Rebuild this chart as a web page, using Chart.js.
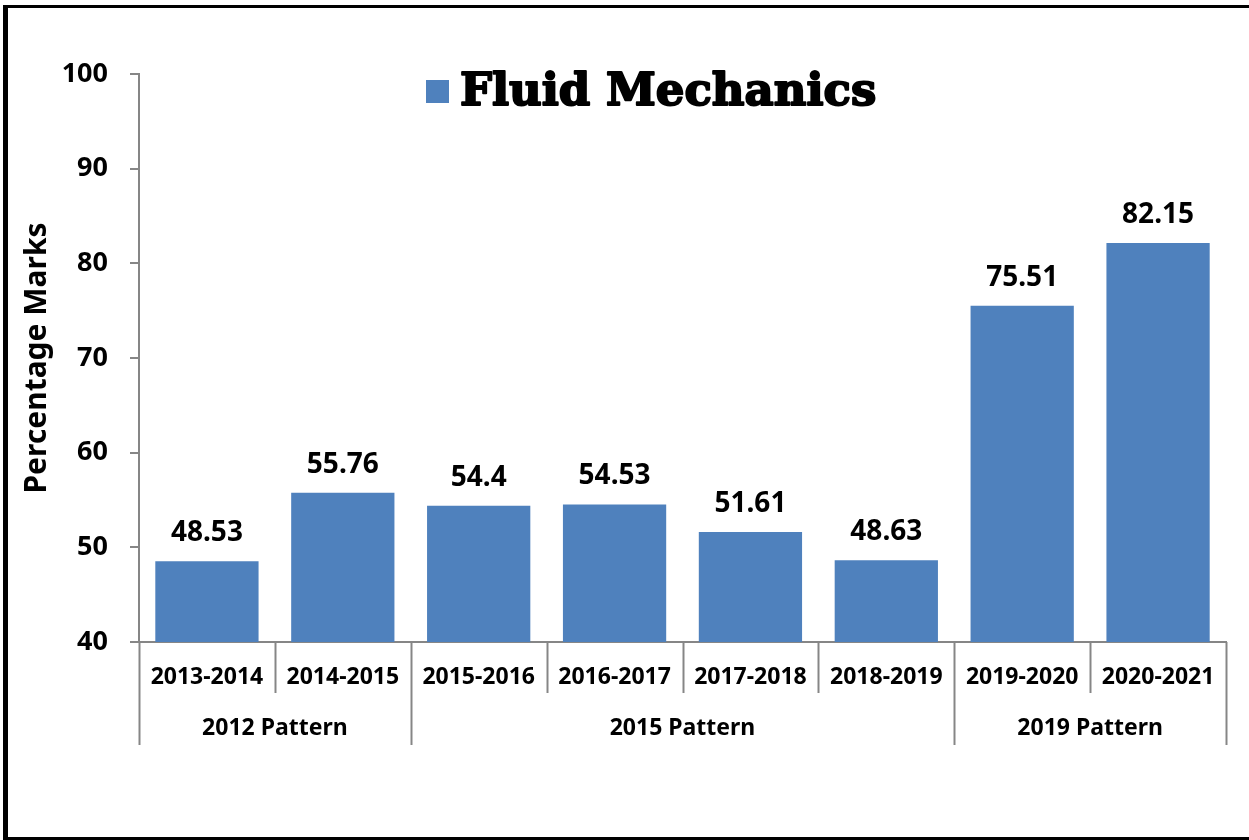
<!DOCTYPE html>
<html>
<head>
<meta charset="utf-8">
<script src="https://cdn.jsdelivr.net/npm/chart.js@4"></script>
<style>
  body { margin: 0; background: #fff; }
  #wrap { width: 1249px; height: 840px; }
</style>
</head>
<body>
<div id="wrap"><canvas id="marksChart" width="1249" height="840"></canvas></div>
<script>
// valores
const years = ['2013-2014', '2014-2015', '2015-2016', '2016-2017', '2017-2018', '2018-2019', '2019-2020', '2020-2021'];
const marks = [48.53, 55.76, 54.4, 54.53, 51.61, 48.63, 75.51, 82.15];
const markLabels = ['48.53', '55.76', '54.4', '54.53', '51.61', '48.63', '75.51', '82.15'];
const patterns = ['2012 Pattern', '2015 Pattern', '2019 Pattern'];
const patternSizes = [2, 4, 2];
const yTicks = [40, 50, 60, 70, 80, 90, 100];

const labelFont = '"Noto Sans", "Open Sans", sans-serif';
const axisGray = '#868686';

// moldura preta (esquerda, topo e base)
const frame = {
  id: 'frame',
  beforeDraw(chart) {
    const c = chart.ctx;
    c.save();
    c.fillStyle = '#fff';
    c.fillRect(0, 0, chart.width, chart.height);
    c.fillStyle = '#000';
    c.fillRect(3, 5, 5, 835);
    c.fillRect(3, 5, 1246, 3);
    c.fillRect(3, 837, 1246, 3);
    c.restore();
  }
};

// legenda desenhada à mão (quadrado + nome da série)
const seriesKey = {
  id: 'seriesKey',
  afterDraw(chart) {
    const c = chart.ctx;
    const ds = chart.data.datasets[0];
    c.save();
    c.fillStyle = ds.backgroundColor;
    c.fillRect(426, 80, 23, 23);
    c.fillStyle = '#000';
    c.strokeStyle = '#000';
    c.lineWidth = 2;
    c.lineJoin = 'round';
    c.font = 'bold 45px "DejaVu Serif", serif';
    c.textAlign = 'left';
    c.textBaseline = 'middle';
    c.fillText(ds.label, 460, 93);
    c.strokeText(ds.label, 460, 93); // deixa o texto mais pesado
    c.restore();
  }
};

// valores em cima das barras
const barValues = {
  id: 'barValues',
  afterDatasetsDraw(chart) {
    const c = chart.ctx;
    const meta = chart.getDatasetMeta(0);
    c.save();
    c.font = 'bold 28px ' + labelFont;
    c.fillStyle = '#000';
    c.textAlign = 'center';
    c.textBaseline = 'bottom';
    meta.data.forEach((bar, i) => {
      c.fillText(markLabels[i], bar.x, bar.y - 14);
    });
    c.restore();
  }
};

// eixo x em dois níveis: separadores e nomes dos padrões
const groupAxis = {
  id: 'groupAxis',
  afterDraw(chart) {
    const c = chart.ctx;
    const x = chart.scales.x;
    const bottom = chart.chartArea.bottom;
    const half = (x.getPixelForValue(1) - x.getPixelForValue(0)) / 2;
    const edge = i => x.getPixelForValue(i) - half;
    const groupEdges = [0];
    patternSizes.forEach(n => groupEdges.push(groupEdges[groupEdges.length - 1] + n));

    c.save();
    c.strokeStyle = axisGray;
    c.lineWidth = 2;
    for (let i = 0; i <= years.length; i++) {
      const px = Math.round(edge(i)) + 0.5;
      const len = groupEdges.includes(i) ? 103 : 51;
      c.beginPath();
      c.moveTo(px, bottom);
      c.lineTo(px, bottom + len);
      c.stroke();
    }
    c.font = 'bold 23px ' + labelFont;
    c.fillStyle = '#000';
    c.textAlign = 'center';
    c.textBaseline = 'middle';
    patterns.forEach((name, g) => {
      const mid = (edge(groupEdges[g]) + edge(groupEdges[g + 1])) / 2;
      c.fillText(name, mid, bottom + 86);
    });
    c.restore();
  }
};

const ctx = document.getElementById('marksChart');

new Chart(ctx, {
  type: 'bar',
  data: {
    labels: years,
    datasets: [{
      label: 'Fluid Mechanics',
      data: marks,
      backgroundColor: '#4F81BD',
      borderWidth: 0,
      categoryPercentage: 1,
      barPercentage: 0.76
    }]
  },
  options: {
    responsive: false,
    animation: false,
    layout: { padding: { left: 8, right: 23, top: 74, bottom: 88 } },
    plugins: {
      tooltip: { enabled: false },
      legend: { display: false }
    },
    scales: {
      x: {
        afterFit(scale) { scale.height = 110; },
        border: { color: axisGray, width: 2 },
        grid: { display: false },
        ticks: {
          color: '#000',
          padding: 14,
          maxRotation: 0,
          autoSkip: false,
          font: { family: labelFont, size: 23, weight: 'bold' }
        }
      },
      y: {
        min: 40,
        max: 100,
        afterFit(scale) { scale.width = 131; },
        afterBuildTicks(scale) { scale.ticks = yTicks.map(v => ({ value: v })); },
        border: { color: axisGray, width: 2 },
        grid: { drawOnChartArea: false, drawTicks: true, tickLength: 9, color: axisGray, lineWidth: 2 },
        ticks: {
          color: '#000',
          padding: 22,
          font: { family: labelFont, size: 27, weight: 'bold' }
        },
        title: {
          display: true,
          text: 'Percentage Marks',
          color: '#000',
          padding: { top: 11, bottom: 0 },
          font: { family: labelFont, size: 30, weight: 'bold' }
        }
      }
    }
  },
  plugins: [frame, seriesKey, barValues, groupAxis]
});
</script>
</body>
</html>
